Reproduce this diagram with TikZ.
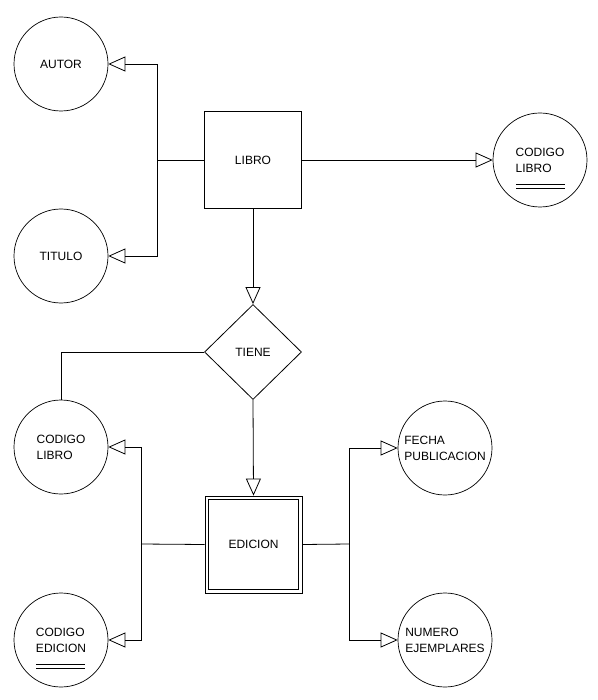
\documentclass[tikz,border=0pt]{standalone}
\usepackage{fontspec}
\setmainfont{Liberation Sans}
\usetikzlibrary{arrows.meta,shapes.geometric}
\begin{document}
\begin{tikzpicture}[x=1pt,y=-1pt,
  txt/.style={font=\fontsize{12}{16}\selectfont},
  attr/.style={circle,draw,line width=0.7pt,minimum size=94pt,inner sep=0pt,align=left,txt},
  ent/.style={rectangle,draw,line width=0.8pt,minimum size=97pt,inner sep=0pt,txt},
  rel/.style={diamond,draw,line width=0.8pt,minimum width=97pt,minimum height=95pt,inner sep=0pt,txt},
  conn/.style={line width=0.8pt},
  arr/.style={conn,-{Triangle[open,length=17pt,width=15pt,line width=0.8pt]}},
  keyline/.style={line width=0.8pt}]
\fill[white] (0,0) rectangle (597,700);
\useasboundingbox (0,0) rectangle (597,700);

\node[attr] (autor) at (61,64) {AUTOR};
\node[attr] (titulo) at (61,256) {TITULO};
\node[ent] (libro) at (253,160) {LIBRO};
\node[attr] (codl) at (540,160) {CODIGO\\LIBRO};
\node[rel] (tiene) at (253,352) {TIENE};
\node[attr] (codl2) at (61,447) {CODIGO\\LIBRO};
\node[ent] (edicion) at (253.5,544.5) {EDICION};
\node[attr] (code) at (61,640) {CODIGO\\EDICION};
\node[attr] (fecha) at (445,448) {FECHA\\PUBLICACION};
\node[attr] (num) at (445,640) {NUMERO\\EJEMPLARES};

% inner border of weak entity
\draw[conn] ([shift={(4,4)}]edicion.north west) rectangle ([shift={(-4,-4)}]edicion.south east);

% key underlines
\draw[keyline] ([shift={(-24,24)}]codl.center) -- ++(49,0);
\draw[keyline] ([shift={(-24,28)}]codl.center) -- ++(49,0);
\draw[keyline] ([shift={(-25,24)}]code.center) -- ++(49,0);
\draw[keyline] ([shift={(-25,28)}]code.center) -- ++(49,0);

% connectors
\coordinate (jl) at (157,160);
\draw[conn] (libro.west) -- (jl);
\draw[arr] (jl) |- (autor.east);
\draw[arr] (jl) |- (titulo.east);
\draw[arr] (libro.east) -- (codl.west);
\draw[arr] (libro.south) -- (tiene.north);
\draw[conn] (tiene.west) -| (codl2.north);
\draw[arr] (tiene.south) -- (edicion.north);

\coordinate (je) at (141,544);
\draw[conn] (edicion.west) -- (je);
\draw[arr] (je) |- (codl2.east);
\draw[arr] (je) |- (code.east);

\coordinate (jr) at (349,544);
\draw[conn] (edicion.east) -- (jr);
\draw[arr] (jr) |- (fecha.west);
\draw[arr] (jr) |- (num.west);
\end{tikzpicture}
\end{document}
